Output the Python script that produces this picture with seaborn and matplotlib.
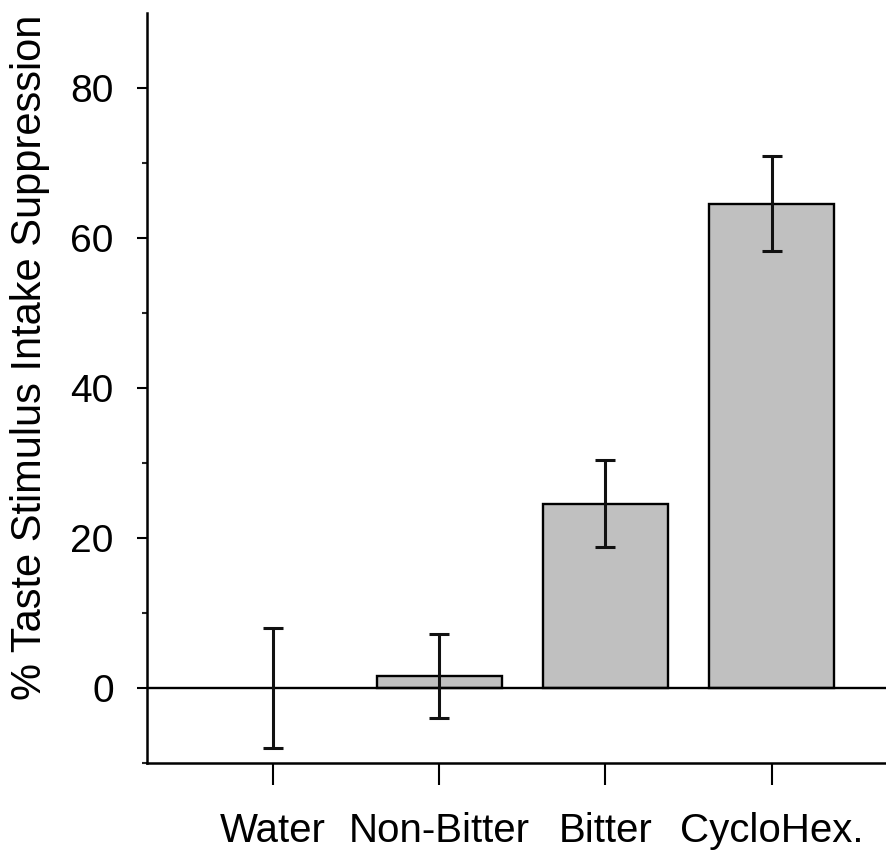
import matplotlib
matplotlib.use("Agg")
import matplotlib.pyplot as plt
import seaborn as sns
import pandas as pd
from matplotlib.ticker import FixedLocator

categories = ["Water", "Non-Bitter", "Bitter", "CycloHex."]
means = [0.0, 1.6, 24.6, 64.6]
errors = [8.0, 5.6, 5.8, 6.3]
yticks_major = [0, 20, 40, 60, 80]
yticks_minor = [-10, 10, 30, 50, 70]

sns.set_theme(style="ticks")
plt.rcParams['font.family'] = ['Liberation Sans', 'DejaVu Sans']

df = pd.DataFrame({"cat": categories, "val": means, "err": errors})

fig = plt.figure(figsize=(8.87, 8.56), dpi=100)
ax = fig.add_axes([0.1657, 0.1086, 0.8333, 0.8762])

sns.barplot(data=df, x="cat", y="val", order=categories, color="#c0c0c0",
            edgecolor="black", linewidth=1.7, width=0.75, errorbar=None,
            saturation=1, ax=ax)
for p in ax.patches:
    if abs(p.get_height()) < 1e-9:
        p.set_linewidth(0)
ax.axhline(0, color="black", lw=1.7, zorder=3)
ax.errorbar(x=range(len(categories)), y=df["val"], yerr=df["err"], fmt="none",
            ecolor="#111111", elinewidth=2.2, capsize=7.5, capthick=2.2, zorder=4)

ax.set_xlim(-0.76, 3.69)
ax.set_ylim(-10, 90)
ax.yaxis.set_major_locator(FixedLocator(yticks_major))
ax.yaxis.set_minor_locator(FixedLocator(yticks_minor))
ax.set_yticklabels([str(v) for v in yticks_major])

for s in ["top", "right"]:
    ax.spines[s].set_visible(False)
for s in ["left", "bottom"]:
    ax.spines[s].set_linewidth(1.8)
    ax.spines[s].set_color("black")

ax.tick_params(axis="y", which="major", length=7, width=1.5, pad=17,
               labelsize=28, colors="black", direction="out")
ax.tick_params(axis="y", which="minor", length=3.6, width=1.5, direction="out")
ax.tick_params(axis="x", which="major", length=16, width=1.5, pad=19,
               labelsize=29, colors="black", direction="out")

ax.set_xlabel("")
ax.set_ylabel("% Taste Stimulus Intake Suppression", fontsize=30, color="black",
              va="center")
ax.yaxis.set_label_coords(-0.158, 0.541)

fig.savefig("out.png", dpi=100)
